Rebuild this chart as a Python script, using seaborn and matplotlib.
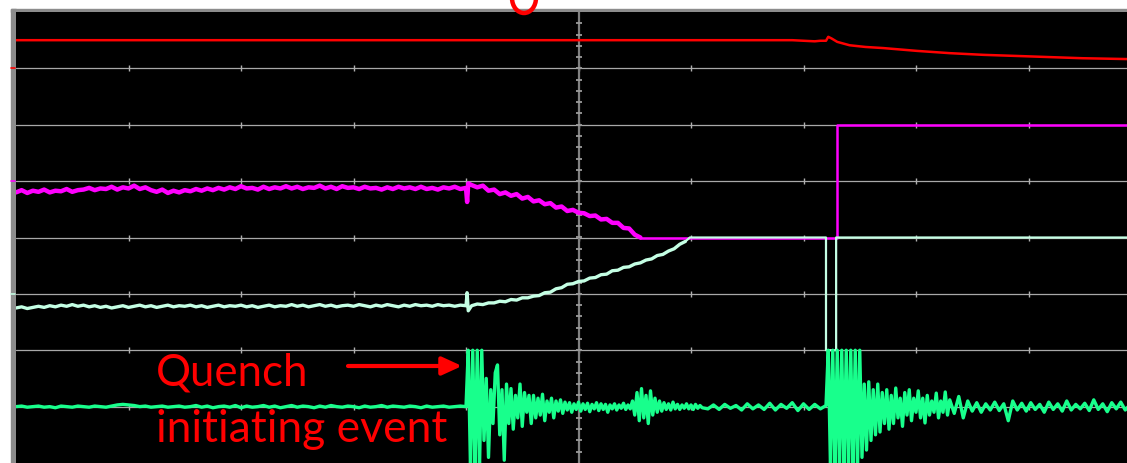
"""
Scope capture of a quench: four channels on a 10 x 8 division screen
"""
import numpy as np
import matplotlib
matplotlib.use("Agg")
import matplotlib.pyplot as plt
from matplotlib import patches, lines
import seaborn as sns

W, H = 1127, 463
SAMPLE_DT = 0.05      # divisions per sample in the quiet stretches
BURST_DT = 0.02       # divisions per sample inside the bursts

# channel 1 (red): flat, small kick at the quench, then slow decay
RED_T = [0.0, 6.9, 7.0, 7.1, 7.15, 7.2, 7.22, 7.25, 7.3, 7.41, 7.55, 7.71,
         8.01, 8.30, 8.6, 8.9, 9.19, 9.48, 9.88]
RED_V = [3.50, 3.50, 3.49, 3.48, 3.49, 3.49, 3.56, 3.53, 3.47, 3.41, 3.38,
         3.36, 3.31, 3.27, 3.24, 3.22, 3.20, 3.18, 3.165]

# channel 2 (magenta)
MAG_NOISE = [0.80, 0.84, 0.79, 0.83, 0.81, 0.85, 0.80, 0.83, 0.82, 0.86, 0.81, 0.84,
             0.85, 0.88, 0.84, 0.87, 0.86, 0.90, 0.85, 0.89, 0.87, 0.92, 0.86, 0.89,
             0.84, 0.81, 0.85, 0.79, 0.83, 0.80, 0.84, 0.82, 0.86, 0.83, 0.87, 0.84,
             0.88, 0.85, 0.89, 0.86, 0.91, 0.87, 0.88, 0.85, 0.90, 0.86, 0.89, 0.87,
             0.91, 0.87, 0.90, 0.86, 0.89, 0.88, 0.92, 0.87, 0.90, 0.86, 0.91, 0.88,
             0.89, 0.86, 0.90, 0.87, 0.88, 0.85, 0.89, 0.86, 0.90, 0.87, 0.89, 0.86,
             0.90, 0.86, 0.88, 0.85, 0.89, 0.87, 0.90, 0.86, 0.88]
MAG_SPIKE_T = [4.01, 4.02]
MAG_SPIKE_V = [0.63, 0.96]
MAG_FALL_START = 4.05
MAG_FALL = [0.93, 0.89, 0.92, 0.83, 0.85, 0.77, 0.80, 0.74, 0.77, 0.69, 0.72,
            0.64, 0.66, 0.59, 0.61, 0.53, 0.55, 0.47, 0.49, 0.44, 0.43, 0.38,
            0.39, 0.32, 0.33, 0.26, 0.26, 0.17, 0.16, 0.05, 0.0]
MAG_END_T = [5.55, 7.30, 7.30, 9.88]
MAG_END_V = [0.0, 0.0, 2.0, 2.0]

# channel 3 (mint)
CYA_NOISE = [-1.25, -1.23, -1.26, -1.24, -1.22, -1.24, -1.21, -1.23, -1.20, -1.22,
             -1.19, -1.22, -1.20, -1.23, -1.21, -1.24, -1.22, -1.25, -1.23, -1.21,
             -1.24, -1.22, -1.20, -1.23, -1.21, -1.24, -1.22, -1.20, -1.23, -1.21,
             -1.22, -1.20, -1.23, -1.21, -1.24, -1.22, -1.20, -1.23, -1.21, -1.22,
             -1.20, -1.23, -1.21, -1.24, -1.22, -1.20, -1.23, -1.21, -1.22, -1.19,
             -1.22, -1.20, -1.23, -1.21, -1.19, -1.22, -1.20, -1.23, -1.21, -1.20,
             -1.22, -1.19, -1.21, -1.23, -1.20, -1.22, -1.19, -1.21, -1.23, -1.20,
             -1.22, -1.19, -1.21, -1.20, -1.22, -1.19, -1.21, -1.20, -1.22, -1.20,
             -1.21]
CYA_SPIKE_T = [4.01, 4.02, 4.05]
CYA_SPIKE_V = [-0.98, -1.30, -1.21]
CYA_RISE_START = 4.10
CYA_RISE = [-1.18, -1.19, -1.16, -1.16, -1.13, -1.14, -1.10, -1.11, -1.07, -1.07,
            -1.04, -1.03, -0.98, -0.97, -0.91, -0.89, -0.83, -0.82, -0.78, -0.77,
            -0.72, -0.71, -0.66, -0.65, -0.59, -0.58, -0.53, -0.52, -0.47, -0.45,
            -0.40, -0.38, -0.32, -0.30, -0.24, -0.20, -0.12, -0.07]
CYA_END_T = [5.95, 5.99, 7.20, 7.20, 7.29, 7.29, 9.88]
CYA_END_V = [-0.07, 0.0, 0.0, -2.0, -2.0, 0.0, 0.0]

# channel 4 (green): acoustic pickup, two bursts
GRN_QUIET1 = [-3.00, -2.99, -3.01, -3.00, -2.99, -3.01, -3.00, -3.02, -2.99, -3.00,
              -3.01, -2.99, -3.00, -3.01, -2.99, -3.00, -3.01, -2.99, -2.97, -2.96,
              -2.97, -2.98, -3.00, -2.99, -3.01, -3.00, -2.99, -3.01, -3.00, -2.99,
              -3.01, -3.00, -2.98, -3.01, -2.99, -3.02, -3.00, -2.99, -3.01, -2.98,
              -3.02, -2.99, -3.01, -3.00, -2.98, -3.01, -2.99, -3.02, -3.00, -2.98,
              -3.01, -2.99, -3.00, -3.02, -2.99, -3.01, -2.98, -3.00, -3.01, -2.99,
              -3.00, -3.02, -2.99, -3.01, -3.00, -2.98, -3.01, -2.99, -3.00, -3.01,
              -2.99, -3.00, -3.02, -2.99, -3.01, -3.00, -2.99, -3.01, -3.00, -2.99,
              -3.00]
GRN_BURST1_START = 4.02
GRN_BURST1 = [-2.0, -4.1, -2.0, -4.1, -2.0, -4.1, -2.0, -3.6, -2.5, -3.9,
              -2.7, -3.3, -2.4, -2.26, -3.5, -2.7, -3.95, -2.6, -3.3, -2.68,
              -3.4, -2.8, -3.2, -2.6, -3.35, -2.75, -3.1, -2.8, -3.3, -2.8,
              -3.2, -2.85, -3.15, -2.78, -3.25, -2.9, -3.1, -2.85, -3.2, -2.9,
              -3.08, -2.88, -3.12, -2.92, -3.06, -2.93, -3.1, -2.95, -3.05, -2.92,
              -3.08, -2.95, -3.05, -2.94, -3.09, -2.96, -3.04, -2.93, -3.07, -2.95,
              -3.05, -2.96, -3.1, -2.97, -3.04, -2.95, -3.06, -2.97, -3.03, -2.94,
              -3.05, -2.97, -3.04, -2.9, -3.15, -2.75, -3.25, -2.68, -3.2, -2.8,
              -3.3, -2.72, -3.15, -2.85, -3.1, -2.9, -3.08, -2.93, -3.05, -2.95,
              -3.06, -2.92, -3.04, -2.96, -3.05, -2.97, -3.03, -2.95, -3.04, -2.97,
              -3.05, -2.96, -3.03, -2.98, -3.02]
GRN_QUIET2_START = 6.15
GRN_QUIET2 = [-3.04, -2.97, -3.05, -2.96, -3.03, -2.98, -3.06, -2.95, -3.04, -2.97,
              -3.05, -2.94, -3.06, -2.96, -3.03, -2.93, -3.07, -2.95, -3.05, -2.96,
              -3.04, -2.98]
GRN_BURST2_START = 7.22
GRN_BURST2 = [-2.0, -4.1, -2.0, -4.1, -2.0, -4.1, -2.0, -4.1, -2.0, -4.1,
              -2.0, -4.1, -2.0, -4.1, -2.0, -3.9, -2.6, -3.77, -2.56, -3.6,
              -2.7, -3.5, -2.6, -3.45, -2.75, -3.3, -2.7, -3.4, -2.8, -3.3,
              -2.67, -3.2, -2.85, -3.35, -2.75, -3.15, -2.7, -3.25, -2.85, -3.1,
              -2.72, -3.2, -2.85, -3.29, -2.8, -3.15, -2.9, -3.1, -2.76, -3.2,
              -2.9, -3.1, -2.74, -3.15, -2.88]
GRN_TAIL_START = 8.34
GRN_TAIL_DT = 0.04
GRN_TAIL = [-3.12, -2.82, -3.2, -2.9, -3.08, -2.93, -3.1, -2.95, -3.06, -2.92,
            -3.07, -2.95, -3.25, -2.9, -3.06, -2.94, -3.08, -2.93, -3.05, -2.96,
            -3.1, -2.92, -3.05, -2.95, -3.08, -2.9, -3.06, -2.96, -3.04, -2.94,
            -3.07, -2.88, -3.05, -2.95, -3.09, -2.93, -3.04, -2.92, -3.06, -2.97]

COLORS = {"red": "#ff0000", "mag": "#ff00ff", "cya": "#c4ffe4", "grn": "#18ff8c"}


def sample_times(start, step, vals):
    return start + step * np.arange(len(vals))


def fx(px):
    return px / W


def fy(py):
    return 1 - py / H


def trace(t, v, color, lw, z):
    sns.lineplot(x=t, y=v, sort=False, estimator=None, color=color, lw=lw,
                 ax=ax, zorder=z)


sns.set_style("dark", {"axes.facecolor": "black", "figure.facecolor": "white"})

fig = plt.figure(figsize=(W / 100, H / 100), dpi=100)
ax = fig.add_axes([fx(16), 0, fx(W - 16), (H - 12) / H])
for s in ax.spines.values():
    s.set_visible(False)
ax.set_xticks([])
ax.set_yticks([])

# screen graticule
for g in range(-3, 4):
    ax.axhline(g, color="#a8a8a8", lw=0.9, zorder=1)
tx, ty = np.meshgrid(np.arange(1, 10), np.arange(-3, 4))
ax.plot(tx.ravel(), ty.ravel(), ls="none", marker="|", ms=5, mew=1,
        color="#b0b0b0", zorder=1)
ax.axvline(5, color="#808080", lw=1.6, zorder=1)
minor = np.arange(-3.8, 4, 0.2)
ax.plot(np.full(len(minor), 5.0), minor, ls="none", marker="_", ms=5, mew=1.3,
        color="#9a9a9a", zorder=1)

# traces: noisy stretches drawn a little heavier than the settled ones
trace(RED_T, RED_V, COLORS["red"], 1.8, 3)

mag_t = np.concatenate([sample_times(0, SAMPLE_DT, MAG_NOISE), MAG_SPIKE_T,
                        sample_times(MAG_FALL_START, SAMPLE_DT, MAG_FALL)])
mag_v = np.concatenate([MAG_NOISE, MAG_SPIKE_V, MAG_FALL])
trace(mag_t, mag_v, COLORS["mag"], 3.2, 3)
trace(MAG_END_T, MAG_END_V, COLORS["mag"], 1.8, 3)

cya_t = np.concatenate([sample_times(0, SAMPLE_DT, CYA_NOISE), CYA_SPIKE_T,
                        sample_times(CYA_RISE_START, SAMPLE_DT, CYA_RISE)])
cya_v = np.concatenate([CYA_NOISE, CYA_SPIKE_V, CYA_RISE])
trace(cya_t, cya_v, COLORS["cya"], 2.4, 4)
trace(CYA_END_T, CYA_END_V, COLORS["cya"], 1.6, 4)

grn_t = np.concatenate([sample_times(0, SAMPLE_DT, GRN_QUIET1),
                        sample_times(GRN_BURST1_START, BURST_DT, GRN_BURST1),
                        sample_times(GRN_QUIET2_START, SAMPLE_DT, GRN_QUIET2),
                        sample_times(GRN_BURST2_START, BURST_DT, GRN_BURST2),
                        sample_times(GRN_TAIL_START, GRN_TAIL_DT, GRN_TAIL)])
grn_v = np.concatenate([GRN_QUIET1, GRN_BURST1, GRN_QUIET2, GRN_BURST2, GRN_TAIL])
trace(grn_t, grn_v, COLORS["grn"], 2.4, 4)

ax.set_xlim(0, (W - 16) / 112.5)
ax.set_ylim(-4, 4)
ax.set_xlabel("")
ax.set_ylabel("")

# bezel
fig.add_artist(patches.Rectangle((fx(11), 0), fx(5), 1 - 9 / H,
                                 transform=fig.transFigure, color="#8c8c8c", zorder=0))
fig.add_artist(patches.Rectangle((fx(11), fy(12)), fx(W - 11), 3 / H,
                                 transform=fig.transFigure, color="#8c8c8c", zorder=0))
for py, c in [(68, COLORS["red"]), (181, COLORS["mag"]), (294, COLORS["cya"])]:
    fig.add_artist(lines.Line2D([fx(11), fx(15)], [fy(py), fy(py)],
                                transform=fig.transFigure, color=c, lw=1.2))

# annotation
font = ["Lato", "DejaVu Sans"]
fig.text(fx(156), fy(385), "Quench", color="#ff0000", fontsize=31.5,
         family=font, va="baseline", ha="left", zorder=6)
fig.text(fx(156), fy(442), "initiating event", color="#ff0000", fontsize=32,
         family=font, va="baseline", ha="left", zorder=6)
ax.annotate("", xy=(462, H - 366), xytext=(348, H - 366),
            xycoords="figure pixels", textcoords="figure pixels",
            arrowprops=dict(arrowstyle="-|>,head_length=1.2,head_width=0.55",
                            mutation_scale=10, color="#ff0000", lw=3,
                            shrinkA=0, shrinkB=0), zorder=6)
fig.add_artist(patches.Ellipse((fx(524), fy(-2)), 24 / W, 30 / H,
                               transform=fig.transFigure, fill=False,
                               ec="#ff0000", lw=3.2, zorder=7))

fig.savefig("out.png", dpi=100, facecolor="white")
